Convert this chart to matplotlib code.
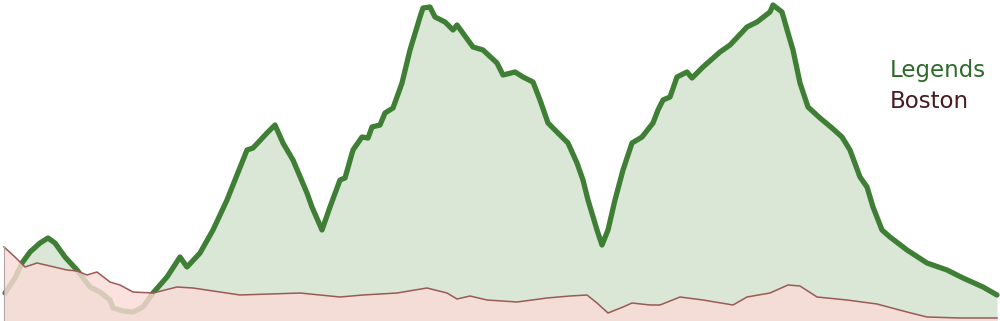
import matplotlib
matplotlib.use("Agg")
import matplotlib.pyplot as plt
import numpy as np

# Series (x position, height above baseline)
legends_x = [5, 15, 22, 30, 40, 48, 55, 65, 77, 90, 100, 110, 113, 123, 133, 143, 153, 167, 180, 187,
             200, 213, 227, 237, 247, 253, 267, 275, 283, 293, 307, 312, 322, 330, 340, 345, 353, 362,
             368, 372, 380, 385, 393, 402, 410, 420, 423, 430, 435, 445, 453, 457, 473, 483, 497, 503,
             515, 523, 533, 540, 548, 568, 577, 583, 588, 597, 602, 608, 615, 623, 632, 642, 653, 658,
             663, 670, 677, 687, 692, 703, 720, 730, 747, 757, 770, 773, 782, 788, 793, 800, 808, 820,
             832, 842, 850, 860, 867, 873, 882, 890, 907, 927, 947, 963, 983, 997]
legends_y = [28, 43, 58, 69, 78, 83, 78, 64, 51, 34, 29, 21, 13, 10, 9, 14, 28, 44, 64, 54,
             68, 91, 121, 146, 171, 173, 188, 196, 178, 161, 128, 114, 91, 114, 141, 143, 171, 184,
             183, 194, 196, 208, 213, 238, 271, 304, 313, 314, 304, 299, 291, 296, 274, 271, 258, 246,
             249, 244, 239, 221, 198, 178, 158, 141, 121, 91, 76, 91, 121, 151, 178, 184, 198, 211,
             221, 224, 244, 249, 243, 254, 269, 276, 294, 299, 309, 316, 309, 288, 271, 238, 214, 203,
             193, 184, 171, 144, 134, 114, 91, 84, 71, 58, 51, 43, 34, 26]

boston_x = [4, 15, 25, 37, 50, 67, 77, 87, 97, 110, 120, 133, 153, 165, 177, 193, 220, 240, 270, 300,
            320, 340, 363, 397, 427, 447, 457, 470, 487, 517, 547, 570, 587, 597, 608, 623, 632, 650,
            660, 680, 703, 733, 747, 770, 788, 800, 817, 847, 877, 907, 927, 960, 997]
boston_y = [74, 64, 54, 58, 55, 51, 50, 46, 49, 39, 36, 29, 28, 31, 34, 33, 29, 26, 27, 28,
            26, 24, 26, 28, 33, 28, 22, 25, 21, 19, 23, 25, 26, 18, 8, 14, 18, 16,
            16, 24, 21, 16, 24, 28, 36, 35, 24, 21, 17, 9, 4, 3, 3]

fig = plt.figure(figsize=(10, 3.21), dpi=100)
ax = fig.add_axes([0, 0, 1, 1])

ax.fill_between(legends_x, legends_y, 0, color="#dae6d6", lw=0, zorder=1)
ax.plot(legends_x, legends_y, color="#3f7f35", lw=3.8, solid_joinstyle="round",
        solid_capstyle="round", zorder=2)

# Boston area sits on top, mostly opaque, so Legends line fades underneath it
ax.fill_between(boston_x, boston_y, 0, color="#fbdcd7", alpha=0.82, lw=0, zorder=3)
ax.plot(boston_x, boston_y, color="#9a5a55", lw=1.1, zorder=4)
ax.plot([boston_x[0], boston_x[0]], [0, boston_y[0]], color="#b0a8a8", lw=0.8, zorder=4)

ax.text(890, 250, "Legends", color="#2e6b2a", fontsize=16.5, family="DejaVu Sans", va="center")
ax.text(890, 220, "Boston", color="#4a1a22", fontsize=16.5, family="DejaVu Sans", va="center")

ax.set_xlim(0, 1000)
ax.set_ylim(0, 321)
ax.axis("off")

fig.savefig("out.png", dpi=100)
